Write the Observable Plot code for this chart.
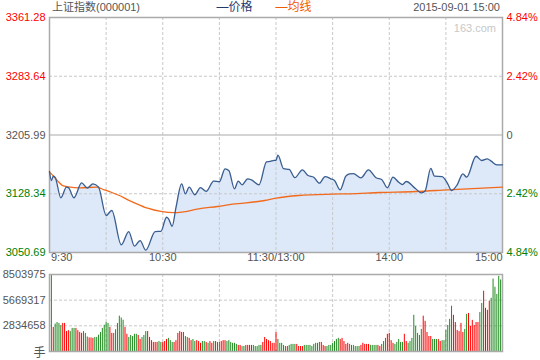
<!DOCTYPE html>
<html><head><meta charset="utf-8">
<script src="https://cdn.jsdelivr.net/npm/d3@7"></script>
<script src="https://cdn.jsdelivr.net/npm/@observablehq/plot@0.6"></script>
<style>
html,body{margin:0;padding:0;background:#fff;}
#chart{position:relative;width:540px;height:360px;overflow:hidden;}
#chart svg{position:absolute;left:0;}
</style></head><body><div id="chart"></div>
<script>
const title = "上证指数(000001)";
const stamp = "2015-09-01 15:00";
const legendNames = ["—价格", "—均线"];
const watermark = "163.com";
const prevClose = 3205.99;
const priceTicks = [3361.28, 3283.64, 3205.99, 3128.34, 3050.69];
const pctTicks = ["4.84%", "2.42%", "0", "2.42%", "4.84%"];
const tickDir = ["u", "u", "f", "d", "d"];
// trading minutes since 9:30 (lunch break removed)
const timeTicks = [0, 30, 60, 90, 120, 150, 180, 210, 240];
const timeLabels = ["9:30", "", "10:30", "", "11:30/13:00", "", "14:00", "", "15:00"];
const volTicks = [8503975, 5669317, 2834658];
const volUnit = "手";

// price line (minute, index level)
const priceT = [0,1,2,3,6,9,10,13,17,20,23,26,30,33,38,42,45,48,51,56,59,62,63,65,67,70,72,74,77,80,83,87,90,93,95,98,100,102,105,107,111,115,117,119,120,121,124,127,130,134,137,140,143,146,149,151,154,157,159,161,165,169,173,176,179,182,185,187,189,194,197,199,202,204,208,211,213,216,219,221,226,229,232,234,237,240];
const priceV = [3157.8,3145.8,3151.5,3150.0,3123.0,3137.0,3136.5,3123.0,3142.8,3135.7,3141.5,3137.0,3099.6,3106.2,3060.9,3078.4,3059.0,3066.5,3053.7,3078.4,3078.6,3097.3,3095.5,3085.4,3110.0,3141.5,3128.3,3137.0,3127.0,3136.5,3131.5,3145.1,3144.2,3161.3,3159.0,3134.9,3144.9,3140.2,3148.1,3146.7,3140.2,3170.5,3171.0,3172.5,3172.3,3179.5,3161.5,3160.5,3149.6,3160.0,3152.4,3150.2,3142.3,3151.1,3148.1,3145.8,3133.5,3151.5,3154.7,3155.0,3149.4,3160.0,3149.4,3147.2,3136.2,3150.2,3143.6,3140.5,3144.5,3134.9,3129.6,3132.0,3162.0,3151.5,3151.1,3141.4,3132.6,3140.2,3154.7,3150.2,3177.9,3172.3,3174.5,3171.4,3166.6,3166.62];

// average price line
const avgT = [0,2,5,7,10,16,25,29,33,37,41,45,52,59,66,70,79,89,97,114,120,132,150,159,175,194,211,240];
const avgV = [3157.0,3152.0,3143.5,3139.0,3137.5,3136.2,3137.0,3133.5,3130.0,3126.0,3121.0,3116.4,3109.2,3104.9,3103.3,3104.0,3108.4,3111.5,3114.5,3119.4,3122.5,3126.0,3127.8,3128.3,3130.0,3131.3,3133.5,3137.0];

// volume per minute, millions of lots (手)
const volAM = [2.66,8.503975,2.66,3.03,3.2,3.1,2.85,3.1,3.1,2.2,
 2.3,2.2,2.55,2.55,2.55,2.3,2.1,2.0,2.2,2.0,
 1.6,1.5,1.5,1.45,1.55,1.55,1.8,2.1,2.55,2.9,
 3.2,3.1,2.66,2.0,2.0,2.4,3.1,3.9,3.7,3.45,
 2.66,1.9,1.55,1.77,1.65,1.9,1.9,1.77,1.33,1.55,
 1.77,2.2,2.2,1.55,1.2,1.0,1.0,1.0,1.1,1.0,
 1.0,1.1,1.33,1.45,1.2,1.0,1.0,1.2,2.0,2.2,
 2.1,2.1,1.65,1.55,1.45,1.2,1.33,1.1,1.2,1.1,
 0.9,1.1,1.1,1.0,0.9,1.1,0.9,1.1,1.1,1.0,
 1.0,1.1,1.2,1.2,1.1,1.2,1.0,0.9,0.9,0.78,
 0.67,0.67,0.55,0.55,0.67,0.67,0.67,0.67,0.67,0.55,
 0.55,0.67,0.67,1.0,1.55,1.33,1.2,1.1,0.9,0.9,
 0.1];
const volPM = [2.1,1.33,0.9,0.9,0.67,0.55,0.55,0.67,0.78,0.78,
 0.78,0.78,0.55,0.55,0.55,0.67,0.67,0.67,0.67,0.55,
 0.78,0.9,0.9,1.0,1.0,0.67,0.55,0.55,0.67,0.67,
 0.9,1.1,1.33,1.45,1.33,1.45,1.1,0.78,0.9,0.78,
 0.67,0.67,0.55,0.55,0.55,0.67,0.9,0.78,0.78,0.78,
 0.67,0.67,0.67,0.67,0.67,0.55,0.78,1.1,1.45,1.9,
 2.0,1.2,0.9,0.78,1.0,1.33,1.0,1.0,1.9,1.1,
 0.9,1.1,1.45,4.0,2.77,2.0,1.77,2.44,3.9,3.33,
 2.1,1.66,1.66,1.33,1.33,1.33,1.33,1.1,1.2,1.2,
 2.33,2.88,3.55,5.0,4.0,3.2,2.33,2.2,3.1,2.1,
 2.44,4.1,4.2,2.77,3.44,2.88,3.2,3.2,4.3,5.3,
 6.65,4.77,4.55,5.55,5.88,8.0,7.1,6.3,8.3,7.9,
 0.55];
// r = up (red), g = down (green)
const dirAM = "ggrggggrrr" + "rgggrrrrgg" + "grrrgggggg" + "ggrrgggggg" + "rrgggggrrg" + "ggrrrrrrgg" + "rrrgggrrrr" + "rgggrrggrr" + "rggrgrrgrg" + "grrrgggggg" + "rrggrrrrgg" + "gggrrrrrrr" + "g";
const dirPM = "rgggggrggg" + "grrrrggggg" + "ggggrrrggg" + "ggggrrrrrg" + "gggggrrrrr" + "ggggrrgggr" + "rrrgggggrr" + "ggggggggrr" + "rrrgggrrgg" + "ggggrrrrrr" + "ggrrrrrrgg" + "rrrrgggggg" + "g";

const RED = "#ff0000", GREEN = "#008000", GRAY = "#555555";
const FONT = "'Liberation Sans', Arial, 'Noto Sans CJK SC', sans-serif";
const dirColor = {domain: ["u", "f", "d", "r", "g"], range: [RED, GRAY, GREEN, "#ff0000", "#228b22"]};

const price = priceT.map((t, i) => ({t, p: priceV[i]}));
const avg = avgT.map((t, i) => ({t, p: avgV[i]}));
const yMin = priceTicks[4], yMax = priceTicks[0];
const grid = timeTicks.slice(1, -1);
const plabels = priceTicks.map((v, i) => ({v, txt: v.toFixed(2), pct: pctTicks[i], dir: tickDir[i]}));
const tlabels = timeTicks.map((t, i) => ({t, s: timeLabels[i]})).filter(d => d.s);
const vol = [
  ...volAM.map((v, k) => ({t: k, v: v * 1e6, d: dirAM[k]})),
  ...volPM.map((v, k) => ({t: 120 + k, v: v * 1e6, d: dirPM[k]}))
];
const dashed = {stroke: "#c8c8c8", strokeDasharray: "3,2"};
const style = {fontFamily: FONT, fontSize: "11px", background: "transparent", overflow: "visible"};

const main = Plot.plot({
  width: 540, height: 268,
  marginLeft: 49, marginRight: 38, marginTop: 17, marginBottom: 16,
  x: {domain: [0, 240], axis: null},
  y: {domain: [yMin, yMax], axis: null},
  color: dirColor,
  style,
  marks: [
    Plot.areaY(price, {x: "t", y1: yMin, y2: "p", fill: "#dde8f9", curve: "monotone-x"}),
    Plot.ruleX(grid, dashed),
    Plot.ruleY([priceTicks[1], priceTicks[3]], dashed),
    Plot.ruleY([prevClose], {stroke: "#aaaaaa", strokeWidth: 1.2}),
    Plot.frame({stroke: "#aaaaaa", strokeWidth: 1.5}),
    Plot.line(avg, {x: "t", y: "p", stroke: "#f26a1b", strokeWidth: 1.3, curve: "monotone-x"}),
    Plot.line(price, {x: "t", y: "p", stroke: "#3a5d8f", strokeWidth: 1.3, curve: "monotone-x"}),
    Plot.text(plabels, {y: "v", text: "txt", fill: "dir", frameAnchor: "left", textAnchor: "end", dx: -4}),
    Plot.text(plabels, {y: "v", text: "pct", fill: "dir", frameAnchor: "right", textAnchor: "start", dx: 4}),
    Plot.text(tlabels.slice(0, 1), {x: "t", text: "s", frameAnchor: "bottom", textAnchor: "start", dy: 8.5, dx: 1.5, fill: GRAY}),
    Plot.text(tlabels.slice(1, -1), {x: "t", text: "s", frameAnchor: "bottom", textAnchor: "middle", dy: 8.5, fill: GRAY}),
    Plot.text(tlabels.slice(-1), {x: "t", text: "s", frameAnchor: "bottom", textAnchor: "end", dy: 8.5, fill: GRAY}),
    Plot.text([title], {text: d => d, frameAnchor: "top-left", textAnchor: "start", lineAnchor: "bottom", dx: 2.5, dy: -6.3, fill: GRAY}),
    Plot.text([legendNames[0]], {text: d => d, frameAnchor: "top-left", textAnchor: "start", lineAnchor: "bottom", dx: 167, dy: -6.3, fill: "#1f3b6e", fontSize: 12}),
    Plot.text([legendNames[1]], {text: d => d, frameAnchor: "top-left", textAnchor: "start", lineAnchor: "bottom", dx: 226, dy: -6.3, fill: "#f05a00", fontSize: 12}),
    Plot.text([stamp], {text: d => d, frameAnchor: "top-right", textAnchor: "end", lineAnchor: "bottom", dx: -2.5, dy: -6.3, fill: GRAY}),
    Plot.text([watermark], {text: d => d, frameAnchor: "top-right", textAnchor: "end", dx: -6.5, dy: 7, fill: "#c8c8c8"})
  ]
});
main.style.top = "0px";

const volPlot = Plot.plot({
  width: 540, height: 92,
  marginLeft: 49, marginRight: 38, marginTop: 6, marginBottom: 9,
  x: {domain: [0, 240], axis: null},
  y: {domain: [0, volTicks[0]], axis: null},
  color: dirColor,
  style,
  marks: [
    Plot.ruleX(grid, dashed),
    Plot.ruleY(volTicks.slice(1), dashed),
    Plot.ruleX(vol, {x: "t", y1: 0, y2: "v", stroke: "d", strokeWidth: 1}),
    Plot.frame({stroke: "#aaaaaa", strokeWidth: 1.5}),
    Plot.text(volTicks, {y: d => d, text: d => String(d), frameAnchor: "left", textAnchor: "end", dx: -4, fill: GRAY}),
    Plot.text([volUnit], {text: d => d, frameAnchor: "bottom-left", textAnchor: "end", dx: -4, dy: 5, fill: GRAY, fontSize: 12})
  ]
});
volPlot.style.top = "268px";

const root = document.getElementById("chart");
root.appendChild(main);
root.appendChild(volPlot);
</script></body></html>
